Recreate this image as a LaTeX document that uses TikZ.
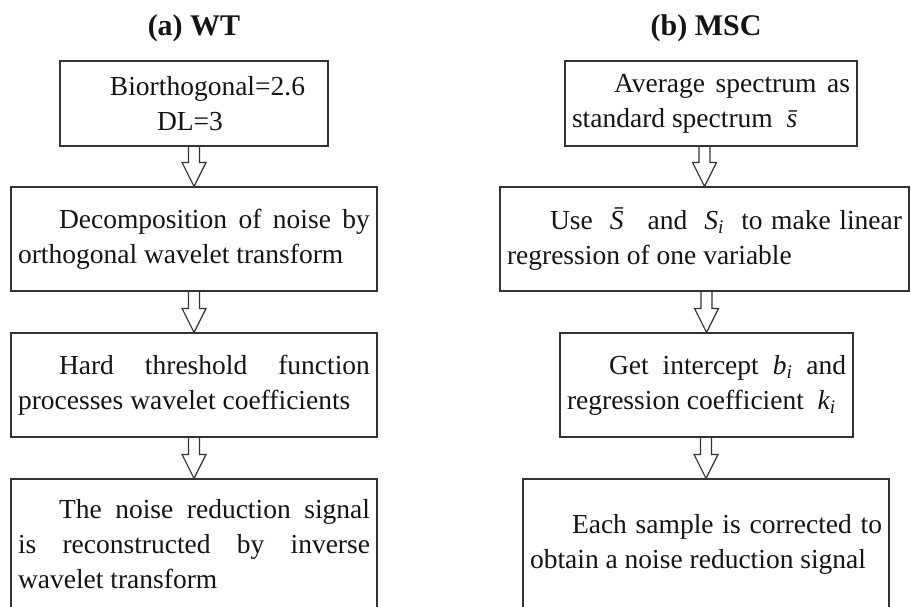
\documentclass[tikz,border=0pt]{standalone}
\usepackage{amsmath}
\usepackage{fontspec}
\setmainfont{Liberation Serif}
\usetikzlibrary{calc}

\tolerance=10000
\hyphenpenalty=10000
\exhyphenpenalty=10000

\definecolor{linegray}{rgb}{0.200000, 0.200000, 0.200000}
\definecolor{textblack}{rgb}{0.080000, 0.080000, 0.080000}

\tikzset{
  stepbox/.style={draw=linegray, line width=1.2pt, inner xsep=7pt, inner ysep=0pt,
    align=justify, text=textblack, font=\fontsize{27.5}{35}\selectfont},
  hollow/.style={draw=linegray, line width=1.2pt},
  heading/.style={text=textblack, font=\fontsize{30}{36}\selectfont\bfseries}
}

% italic letters for the symbols, taken from the text font
\newcommand{\sym}[1]{\textit{#1}}

% hollow block arrow from the bottom of one box to the top of the next
\newcommand{\blockarrow}[2]{%
\draw[hollow] let \p1=(#1.south), \p2=(#2.north) in
  ({\x2-5.5pt},\y1) -- ({\x2-5.5pt},{\y2+24pt}) -- ({\x2-12pt},{\y2+24pt}) -- (\x2,\y2)
  -- ({\x2+12pt},{\y2+24pt}) -- ({\x2+5.5pt},{\y2+24pt}) -- ({\x2+5.5pt},\y1);
}

\begin{document}
\begin{tikzpicture}[x=1pt,y=-1pt]
\useasboundingbox (0,0) rectangle (911,606);
\clip (0,0) rectangle (911,606);

% (a) WT
\node[heading] (titleA) at (194,28) {(a) WT};
\node[stepbox, align=center, text width=254pt, minimum height=85pt] (wt1) at (194,103.5)
  {\hspace*{27pt}Biorthogonal=2.6\\DL=3\hspace*{8pt}};
\node[stepbox, text width=352pt, minimum height=104pt] (wt2) at (194,239)
  {\hspace*{41pt}Decomposition of noise by orthogonal wavelet transform};
\node[stepbox, text width=352pt, minimum height=104pt] (wt3) at (194,385)
  {\hspace*{41pt}Hard threshold function processes wavelet coefficients};
\node[stepbox, text width=352pt, minimum height=130pt] (wt4) at (194,544)
  {\hspace*{41pt}The noise reduction signal is reconstructed by inverse wavelet transform};

% (b) MSC
\node[heading] (titleB) at (706,28) {(b) MSC};
\node[stepbox, text width=278pt, minimum height=85pt] (msc1) at (711,103.5)
  {\hspace*{42pt}Average spectrum as standard spectrum~ \sym{\=s}};
\node[stepbox, text width=395pt, minimum height=104pt] (msc2) at (704.5,239)
  {\hspace*{43pt}Use ~\sym{\=S}~ and ~$\sym{S}_{\sym{i}}$~ to make linear regression of one variable};
\node[stepbox, text width=279pt, minimum height=104pt] (msc3) at (706.5,385)
  {\hspace*{42pt}Get intercept $\sym{b}_{\sym{i}}$ and regression coefficient~ $\sym{k}_{\sym{i}}$};
\node[stepbox, text width=352pt, minimum height=130pt] (msc4) at (706,544)
  {\hspace*{42pt}Each sample is corrected to obtain a noise reduction signal};

\blockarrow{wt1}{wt2}
\blockarrow{wt2}{wt3}
\blockarrow{wt3}{wt4}
\blockarrow{msc1}{msc2}
\blockarrow{msc2}{msc3}
\blockarrow{msc3}{msc4}
\end{tikzpicture}
\end{document}
